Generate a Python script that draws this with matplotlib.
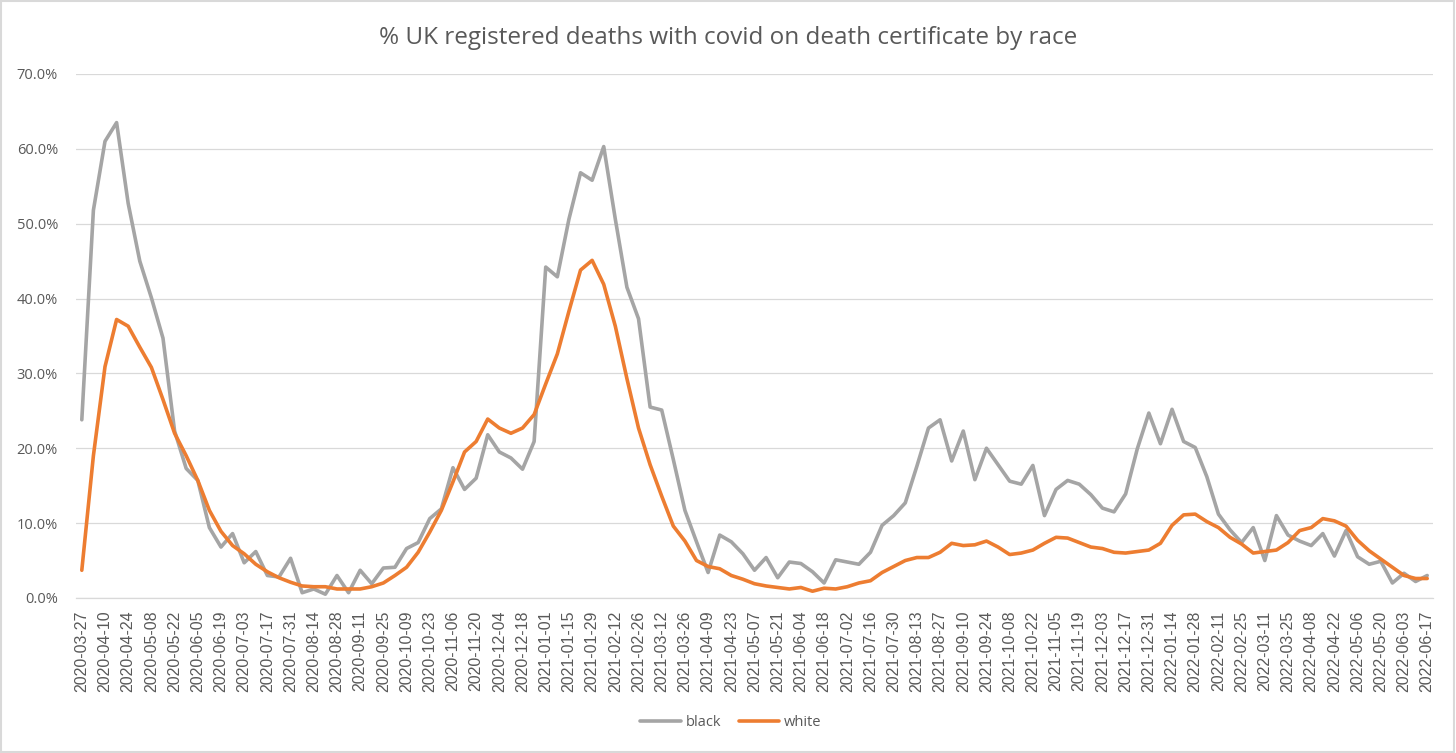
import numpy as np
import pandas as pd
import matplotlib
matplotlib.use("Agg")
import matplotlib.pyplot as plt
from matplotlib.patches import Rectangle
from matplotlib.ticker import PercentFormatter

# weekly registration dates (labels only)
weeks = pd.date_range("2020-03-27", periods=117, freq="7D").strftime("%Y-%m-%d").tolist()

# % of registered deaths with covid on the certificate
black = [
    23.8, 51.8, 61.0, 63.5, 52.7, 45.0, 40.1, 34.7, 22.3, 17.3, 15.7, 9.4, 6.8, 8.6, 4.7, 6.2,
    3.0, 2.8, 5.3, 0.7, 1.2, 0.5, 3.0, 0.7, 3.7, 1.9, 4.0, 4.1, 6.6, 7.4, 10.6, 11.9,
    17.4, 14.5, 16.0, 21.8, 19.5, 18.7, 17.2, 20.9, 44.2, 42.9, 50.6, 56.8, 55.8, 60.3, 50.6, 41.5,
    37.3, 25.5, 25.1, 18.5, 11.7, 7.5, 3.4, 8.4, 7.5, 5.9, 3.7, 5.4, 2.7, 4.8, 4.6,
    3.5, 2.0, 5.1, 4.8, 4.5, 6.1, 9.7, 11.0, 12.7, 17.6, 22.7, 23.8, 18.3, 22.3, 15.8, 20.0,
    17.8, 15.6, 15.2, 17.7, 11.0, 14.5, 15.7, 15.2, 13.8, 12.0, 11.5, 13.9, 19.9, 24.7, 20.6,
    25.2, 20.9, 20.1, 16.2, 11.2, 9.1, 7.4, 9.4, 5.0, 11.0, 8.4, 7.6, 7.0, 8.6, 5.6, 9.0,
    5.5, 4.5, 4.9, 2.0, 3.3, 2.2, 3.0,
]
white = [
    3.7, 19.0, 30.9, 37.2, 36.3, 33.5, 30.8, 26.5, 22.0, 19.0, 15.7, 11.7, 8.9, 7.0, 5.9, 4.5,
    3.5, 2.7, 2.1, 1.6, 1.5, 1.5, 1.2, 1.2, 1.2, 1.5, 2.0, 3.0, 4.1, 6.1, 8.8, 11.7,
    15.5, 19.5, 20.9, 23.9, 22.7, 22.0, 22.7, 24.5, 28.6, 32.6, 38.3, 43.8, 45.1, 41.9, 36.3, 29.3,
    22.7, 17.8, 13.6, 9.6, 7.6, 5.0, 4.2, 3.9, 3.0, 2.5, 1.9, 1.6, 1.4, 1.2, 1.4,
    0.9, 1.3, 1.2, 1.5, 2.0, 2.3, 3.4, 4.2, 5.0, 5.4, 5.4, 6.1, 7.3, 7.0, 7.1, 7.6,
    6.8, 5.8, 6.0, 6.4, 7.3, 8.1, 8.0, 7.4, 6.8, 6.6, 6.1, 6.0, 6.2, 6.4, 7.3,
    9.7, 11.1, 11.2, 10.2, 9.4, 8.1, 7.2, 6.0, 6.2, 6.4, 7.4, 9.0, 9.4, 10.6, 10.3, 9.6,
    7.7, 6.3, 5.2, 4.1, 3.0, 2.6, 2.6,
]

GREY_TXT = "#595959"

fig = plt.figure(figsize=(14.56, 7.53), dpi=100)
ax = fig.add_axes([0.0522, 0.2059, 0.9320, 0.6959])

x = np.arange(len(weeks))
ax.plot(x, np.array(black) / 100, color="#A5A5A5", lw=2.6, label="black",
        solid_joinstyle="round", solid_capstyle="round")
ax.plot(x, np.array(white) / 100, color="#ED7D31", lw=2.6, label="white",
        solid_joinstyle="round", solid_capstyle="round")

ax.set_xlim(-0.5, len(weeks) - 0.5)
ax.set_ylim(0, 0.7)
ax.set_yticks(np.arange(0, 0.71, 0.1))
ax.yaxis.set_major_formatter(PercentFormatter(1.0, decimals=1))
ax.grid(axis="y", color="#D9D9D9", lw=0.9)
ax.set_axisbelow(True)
for s in ["top", "right", "left"]:
    ax.spines[s].set_visible(False)
ax.spines["bottom"].set_color("#D9D9D9")
ax.spines["bottom"].set_linewidth(0.9)

ax.set_xticks(x[::2])
ax.set_xticklabels(weeks[::2], rotation=90, fontsize=11.5,
                   family=["Liberation Sans", "DejaVu Sans"], color=GREY_TXT)
ax.tick_params(axis="x", length=0, pad=9)
ax.tick_params(axis="y", length=0, pad=13, labelsize=10.5, labelcolor=GREY_TXT)
for t in ax.get_yticklabels():
    t.set_family(["Open Sans", "DejaVu Sans"])

fig.text(0.5, 0.949, "% UK registered deaths with covid on death certificate by race",
         ha="center", va="center", fontsize=17.5, color=GREY_TXT,
         family=["Open Sans", "DejaVu Sans"])

leg = fig.legend(loc="center", bbox_to_anchor=(0.502, 0.04), ncol=2, frameon=False,
                 handlelength=2.8, handletextpad=0.3, columnspacing=1.2,
                 prop={"family": ["Open Sans", "DejaVu Sans"], "size": 10.5})
for t in leg.get_texts():
    t.set_color(GREY_TXT)

# chart area border
fig.patches.append(Rectangle((0.0008, 0.0015), 0.998, 0.997, transform=fig.transFigure,
                             fill=False, ec="#D9D9D9", lw=1.5))

fig.savefig("out.png", dpi=100)
